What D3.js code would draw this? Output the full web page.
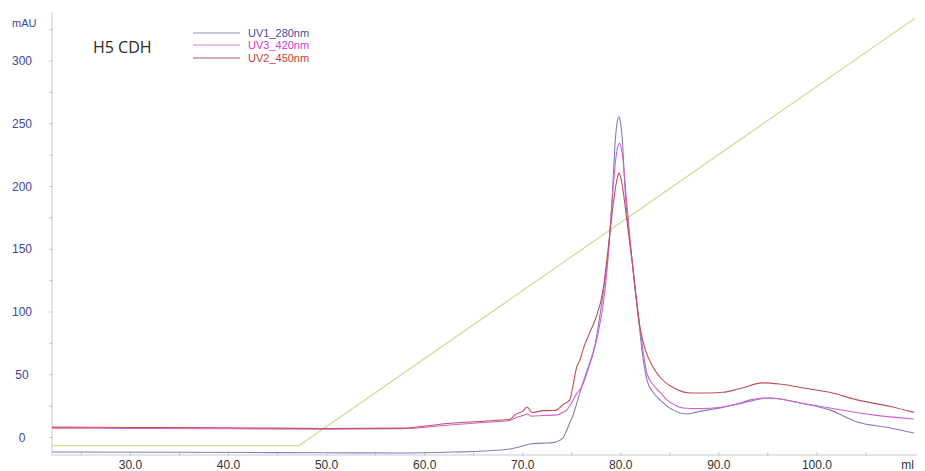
<!DOCTYPE html>
<html>
<head>
<meta charset="utf-8">
<script src="https://cdn.jsdelivr.net/npm/d3@7"></script>
<style>
  body { margin: 0; background: #fff; }
  text { font-family: "Liberation Sans", Arial, sans-serif; }
</style>
</head>
<body>
<div id="viz"></div>
<script>
// ml, mAU pairs
const uv1_280 = [
    [22,-11.5],[35,-11.8],[50,-12.2],[57.5,-12.4],[63,-11.6],[66,-10.8],[68.7,-9.2],[70.0,-6.8],
    [70.7,-5.2],[72.1,-4.5],[73.1,-4.1],[73.7,-2.5],[74.1,-0.4],[74.5,6],[74.8,12],[75.1,17],
    [75.5,27],[75.8,35],[76.5,52],[77.4,75],[78.2,115],[78.7,145],[79.15,195],[79.45,238],
    [79.65,252],[79.8,255.6],[79.95,252],[80.15,238],[80.45,195],[80.8,165],[81.15,141],
    [81.6,108],[81.9,88],[82.2,67],[82.7,45],[83.3,36],[84.0,30],[85.3,22],[86.85,18.7],
    [87.56,20],[90.4,24],[93.2,29],[94.9,31.5],[96.5,30.5],[98.3,27.5],[101.3,22],[104.1,12.4],
    [107.5,7.6],[109.9,3.6]
];

const uv3_420 = [
    [22,7.5],[30,7.2],[40,7],[50,6.6],[57.5,7.0],[62.6,10.0],[66,12],[68.7,13.5],[69.2,15.5],
    [70.0,17.5],[70.45,18.7],[70.9,17],[72.1,17.5],[73.5,18],[74.1,20],[74.5,22],[75.0,28],
    [75.5,35],[76.0,40],[76.7,55],[77.6,80],[78.4,118],[78.75,148],[79.2,197],[79.5,223],
    [79.7,232],[79.85,234.6],[80.0,232],[80.2,223],[80.5,197],[80.85,166],[81.15,141],
    [81.95,88],[82.67,51],[83.3,42],[84.0,36],[84.7,30],[85.5,26],[86.34,23.5],[88,23],
    [90.4,24.3],[92,27],[93.2,30],[95.2,31.5],[98.3,27.5],[101.3,23.5],[105.7,18],[109.9,14.7]
];

const uv2_450 = [
    [22,8.3],[30,8],[40,7.8],[50,7.2],[57.5,7.5],[62.6,11.3],[66,13],[68.7,14.5],[69.2,18],
    [70.0,21],[70.45,24.3],[70.95,19.8],[72.1,21.4],[73.1,21.5],[73.5,22],[73.8,24],[74.1,26],
    [74.8,30],[75.1,40],[75.5,56],[75.85,62],[76.15,70],[76.8,83],[77.4,94],[78.2,118],
    [78.6,143],[79.2,184],[79.5,201],[79.7,208.5],[79.8,210.7],[79.95,208.5],[80.15,201],
    [80.45,184],[80.8,162],[81.15,141],[81.95,88],[82.5,70],[83.3,56],[84.0,48],[85.3,40],
    [87.1,35.4],[89,35.5],[90.4,36],[92.15,39],[94.5,43.5],[96.2,42.6],[99,39],[101.3,36],
    [104.1,30],[107.5,24.7],[109.9,20]
];

const gradient = [[22,-6.5],[47.2,-6.5],[110,334]];

const xTicks = [30, 40, 50, 60, 70, 80, 90, 100];
const yTicks = [0, 50, 100, 150, 200, 250, 300];

const legendNames = ["UV1_280nm", "UV3_420nm", "UV2_450nm"];
const title = "H5 CDH";

const width = 925;
const height = 471;

const svg = d3.select("#viz").append("svg")
    .attr("width", width)
    .attr("height", height);

const xScale = d3.scaleLinear()
    .domain([22, 110])
    .range([52, 915]);

const yScale = d3.scaleLinear()
    .domain([0, 300])
    .range([437.5, 61]);

const axisColor = "#c9c9d6";
const labelColor = "#45459a";

// y axis
const yAxis = svg.append("g")
    .attr("transform", "translate(52,0)");

yAxis.append("line")
    .attr("y1", 12).attr("y2", 455)
    .attr("stroke", axisColor);

yAxis.selectAll(".minor")
    .data(d3.range(0, 326, 25))
    .join("line")
        .attr("x1", -3).attr("x2", 1)
        .attr("y1", d => yScale(d)).attr("y2", d => yScale(d))
        .attr("stroke", axisColor);

yAxis.selectAll(".ylab")
    .data(yTicks)
    .join("text")
        .attr("x", -30)
        .attr("y", d => yScale(d) + 4)
        .attr("text-anchor", "middle")
        .attr("fill", labelColor)
        .style("font-size", "12px")
        .text(d => d);

svg.append("text")
    .attr("x", 12)
    .attr("y", 27)
    .attr("fill", labelColor)
    .style("font-size", "11px")
    .text("mAU");

// x axis
const xAxis = svg.append("g")
    .attr("transform", "translate(0,455)");

xAxis.append("line")
    .attr("x1", 52).attr("x2", 917)
    .attr("stroke", axisColor);

xAxis.selectAll(".minor")
    .data(d3.range(25, 110, 5))
    .join("line")
        .attr("x1", d => xScale(d)).attr("x2", d => xScale(d))
        .attr("y1", -3).attr("y2", 1)
        .attr("stroke", axisColor);

xAxis.selectAll(".xlab")
    .data(xTicks)
    .join("text")
        .attr("x", d => xScale(d))
        .attr("y", 14)
        .attr("text-anchor", "middle")
        .attr("fill", "#333")
        .style("font-size", "12px")
        .text(d => d.toFixed(1));

xAxis.append("text")
    .attr("x", 914)
    .attr("y", 14)
    .attr("text-anchor", "end")
    .attr("fill", "#333")
    .style("font-size", "12px")
    .text("ml");

// traces
const line = d3.line()
    .x(d => xScale(d[0]))
    .y(d => yScale(d[1]))
    .curve(d3.curveMonotoneX);

svg.append("path")
    .datum(gradient)
    .attr("d", d3.line().x(d => xScale(d[0])).y(d => yScale(d[1])))
    .attr("fill", "none")
    .attr("stroke", "#d8dc98")
    .attr("stroke-width", 1.3);

const series = [
    { data: uv1_280, color: "#8080bc" },
    { data: uv3_420, color: "#d062d0" },
    { data: uv2_450, color: "#bf4f58" }
];

svg.selectAll(".trace")
    .data(series)
    .join("path")
        .attr("class", "trace")
        .attr("d", d => line(d.data))
        .attr("fill", "none")
        .attr("stroke", d => d.color)
        .attr("stroke-width", 1.1);

// title
svg.append("text")
    .attr("x", 93)
    .attr("y", 53)
    .attr("fill", "#2a2a2a")
    .style("font-family", "'Open Sans', sans-serif")
    .style("font-size", "16px")
    .text(title);

// legend
const legendLine = ["#b4b4d0", "#e2a8e2", "#c49494"];
const legendText = ["#4a4aa2", "#d040d0", "#c4403a"];
const legendY = [35, 47, 60];

const gLegend = svg.selectAll(".legend")
    .data(legendNames)
    .join("g")
        .attr("class", "legend")
        .attr("transform", (d, i) => `translate(0,${legendY[i]})`);

gLegend.append("line")
    .attr("x1", 193).attr("x2", 240)
    .attr("y1", -2).attr("y2", -2)
    .attr("stroke", (d, i) => legendLine[i])
    .attr("stroke-width", 1.3);

gLegend.append("text")
    .attr("x", 248)
    .attr("y", 2)
    .attr("fill", (d, i) => legendText[i])
    .style("font-size", "11px")
    .text(d => d);
</script>
</body>
</html>
